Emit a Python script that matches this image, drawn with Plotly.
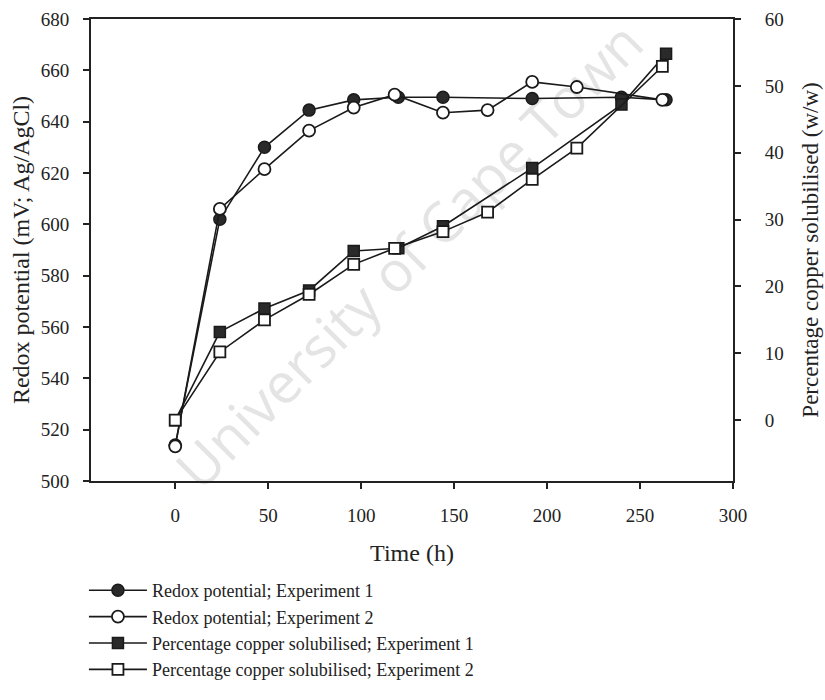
import plotly.graph_objects as go

# ---- data ----
t_redox1 = [0, 24, 48, 72, 96, 120, 144, 192, 240, 264]
redox1 = [514, 602, 630, 644.5, 648.5, 649.5, 649.5, 649, 649.5, 648.5]

t_redox2 = [0, 24, 48, 72, 96, 118, 144, 168, 192, 216, 262]
redox2 = [513.5, 606, 621.5, 636.5, 645.5, 650.5, 643.5, 644.5, 655.5, 653.5, 648.5]

t_cu1 = [0, 24, 48, 72, 96, 120, 144, 192, 240, 264]
cu1 = [0, 13.2, 16.7, 19.4, 25.3, 25.7, 29.0, 37.7, 47.2, 54.8]

t_cu2 = [0, 24, 48, 72, 96, 118, 144, 168, 192, 216, 262]
cu2 = [0, 10.2, 15.0, 18.8, 23.3, 25.7, 28.2, 31.1, 36.0, 40.7, 52.9]

names = [
    "Redox potential; Experiment 1",
    "Redox potential; Experiment 2",
    "Percentage copper solubilised; Experiment 1",
    "Percentage copper solubilised; Experiment 2",
]

x_ticks = [0, 50, 100, 150, 200, 250, 300]
y_left_ticks = [500, 520, 540, 560, 580, 600, 620, 640, 660, 680]
y_right_ticks = [0, 10, 20, 30, 40, 50, 60]

FONT = "Liberation Serif"
INK = "#1a1a1a"
FILL = "#2a2a2a"

fig = go.Figure()

line_style = dict(color=INK, width=1.6)

fig.add_trace(go.Scatter(
    x=t_redox1, y=redox1, name=names[0], mode="lines+markers", legendrank=1,
    line=line_style,
    marker=dict(symbol="circle", size=12, color=FILL, line=dict(color=INK, width=1.5)),
))
fig.add_trace(go.Scatter(
    x=t_redox2, y=redox2, name=names[1], mode="lines+markers", legendrank=2,
    line=line_style,
    marker=dict(symbol="circle", size=12, color="white", line=dict(color=INK, width=1.8)),
))
fig.add_trace(go.Scatter(
    x=t_cu1, y=cu1, name=names[2], mode="lines+markers", yaxis="y2", legendrank=3,
    line=line_style,
    marker=dict(symbol="square", size=11, color=FILL, line=dict(color=INK, width=1.5)),
))
fig.add_trace(go.Scatter(
    x=t_cu2, y=cu2, name=names[3], mode="lines+markers", yaxis="y2", legendrank=4,
    line=line_style,
    marker=dict(symbol="square", size=11, color="white", line=dict(color=INK, width=1.8)),
))

# faint watermark behind the data
fig.add_shape(
    type="line", xref="paper", yref="paper",
    x0=0.52, y0=0.42, x1=0.56, y1=0.42,
    line=dict(width=0, color="rgba(0,0,0,0)"), layer="below",
    label=dict(text="University of Cape Town", textangle=-45, textposition="middle",
               font=dict(family="Open Sans", size=56, color="#e4e4e4")),
)

axis_common = dict(
    showline=True, linecolor="#222", linewidth=1.8,
    ticks="outside", ticklen=6, tickwidth=1.5, tickcolor="#222",
    showgrid=False, zeroline=False, automargin=False,
    tickfont=dict(family=FONT, size=19, color="#222"),
)

fig.update_layout(
    width=825, height=700,
    margin=dict(l=91, r=92, t=19, b=219),
    paper_bgcolor="white", plot_bgcolor="rgba(0,0,0,0)",
    font=dict(family=FONT, color="#222"),
    xaxis=dict(
        **axis_common, range=[-45.3, 300], tickvals=x_ticks, mirror=True,
        ticklabelstandoff=10,
        title=dict(text="Time (h)", font=dict(family=FONT, size=24), standoff=19),
    ),
    yaxis=dict(
        **axis_common, range=[500, 680], tickvals=y_left_ticks,
        ticklabelstandoff=10,
        title=dict(text="Redox potential (mV; Ag/AgCl)", font=dict(family=FONT, size=24), standoff=4),
    ),
    yaxis2=dict(
        **axis_common, overlaying="y", side="right", range=[-9.1, 60], tickvals=y_right_ticks,
        ticklabelstandoff=20,
        title=dict(text="Percentage copper solubilised (w/w)", font=dict(family=FONT, size=23), standoff=19),
    ),
    legend=dict(
        x=-0.011, xanchor="left", y=-0.197, yanchor="top",
        font=dict(family=FONT, size=18, color="#222"),
        bgcolor="rgba(0,0,0,0)", itemwidth=58, tracegroupgap=0,
    ),
    showlegend=True,
)

fig.write_html("out.html")
